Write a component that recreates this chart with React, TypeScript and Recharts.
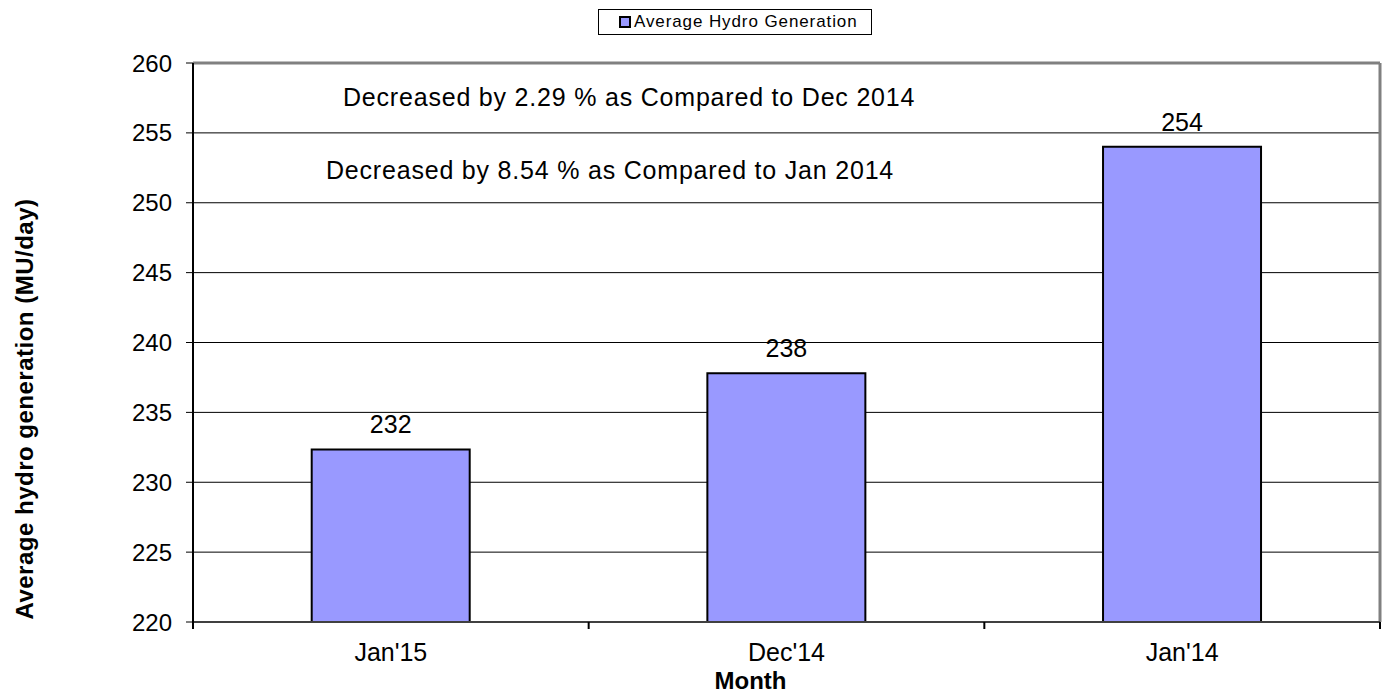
import React from 'react';
import { BarChart, Bar, XAxis, YAxis, CartesianGrid, Legend, LabelList, Customized, ReferenceLine } from 'recharts';

const months = ["Jan'15", "Dec'14", "Jan'14"];
const hydroGeneration = [232.35, 237.8, 254.0];
const yTicks = [220, 225, 230, 235, 240, 245, 250, 255, 260];
const notes = [
  'Decreased by 2.29 % as Compared to Dec 2014',
  'Decreased by 8.54 % as Compared to Jan 2014',
];

const data = months.map((m, i) => ({ month: m, value: hydroGeneration[i] }));

const FONT = '"Liberation Sans", Arial, sans-serif';
const X_TICK_MARGIN = 10;
const X_TICK_SIZE = 6; // recharts still counts the default tick size

// category tick: label in the middle, tick marks on the band edges (Excel style)
const MonthTick = (props: any) => {
  const { x, y, payload, index, width, visibleTicksCount } = props;
  const band = width / visibleTicksCount;
  const axisY = y - X_TICK_MARGIN - X_TICK_SIZE;
  const left = x - band / 2;
  return (
    <g>
      <line x1={left} x2={left} y1={axisY} y2={axisY + 7} stroke="#000" strokeWidth={2} />
      {index === visibleTicksCount - 1 && (
        <line x1={x + band / 2} x2={x + band / 2} y1={axisY} y2={axisY + 7} stroke="#000" strokeWidth={2} />
      )}
      <text x={x} y={y} dy="0.9em" textAnchor="middle" fill="#000" fontSize={25} fontFamily={FONT}>
        {payload.value}
      </text>
    </g>
  );
};

const LegendBox = () => (
  <div
    style={{
      display: 'inline-flex',
      alignItems: 'center',
      boxSizing: 'border-box',
      height: 26,
      width: 274,
      border: '1px solid #000',
      paddingLeft: 20,
      fontFamily: FONT,
      fontSize: 17,
      letterSpacing: 0.9,
      background: '#fff',
    }}
  >
    <span
      style={{
        width: 8,
        height: 8,
        background: '#9999FF',
        border: '2px solid #000',
        marginRight: 3,
        display: 'inline-block',
      }}
    />
    Average Hydro Generation
  </div>
);

const Annotations = () => (
  <g fontFamily={FONT} fill="#000">
    <text x={343} y={106} fontSize={25} letterSpacing={0.8}>{notes[0]}</text>
    <text x={326} y={179} fontSize={25} letterSpacing={0.8}>{notes[1]}</text>
    <text
      x={33}
      y={409}
      fontSize={24}
      fontWeight="bold"
      letterSpacing={0.5}
      textAnchor="middle"
      transform="rotate(-90 33 409)"
    >
      Average hydro generation (MU/day)
    </text>
  </g>
);

export default function App() {
  return (
    <div style={{ position: 'absolute', left: 0, top: 0, background: '#fff' }}>
      <BarChart
        width={1387}
        height={696}
        data={data}
        margin={{ top: 37, right: 7, bottom: 0, left: 0 }}
        barCategoryGap="30%"
      >
        <CartesianGrid vertical={false} stroke="#000" strokeWidth={1} />
        <CartesianGrid
          horizontal={false}
          stroke="#808080"
          strokeWidth={3}
          verticalCoordinatesGenerator={({ offset }: any) => [offset.left + offset.width]}
        />
        <Legend
          verticalAlign="top"
          align="left"
          content={LegendBox}
          wrapperStyle={{ top: 9, left: 598, width: 274, height: 26 }}
        />
        <XAxis
          dataKey="month"
          height={74}
          tickLine={false}
          axisLine={{ stroke: '#404040', strokeWidth: 2 }}
          tick={<MonthTick />}
          tickMargin={X_TICK_MARGIN}
          label={{
            value: 'Month',
            position: 'insideBottom',
            offset: 7,
            fill: '#000',
            fontSize: 24,
            fontWeight: 'bold',
            fontFamily: FONT,
            dx: -36,
          }}
        />
        <YAxis
          domain={[220, 260]}
          ticks={yTicks}
          width={193}
          tickSize={7}
          tickMargin={14}
          tickLine={{ stroke: '#000' }}
          axisLine={{ stroke: '#000', strokeWidth: 2 }}
          tick={{ fill: '#000', fontSize: 24, fontFamily: FONT }}
          interval={0}
        />
        <ReferenceLine y={260} stroke="#808080" strokeWidth={3} />
        <Bar
          dataKey="value"
          fill="#9999FF"
          stroke="#000"
          strokeWidth={2}
          isAnimationActive={false}
        >
          <LabelList
            dataKey="value"
            position="top"
            offset={16}
            formatter={(v: number) => Math.round(v).toString()}
            style={{ fill: '#000', fontSize: 25, fontFamily: FONT }}
          />
        </Bar>
        <Customized component={Annotations} />
      </BarChart>
    </div>
  );
}
